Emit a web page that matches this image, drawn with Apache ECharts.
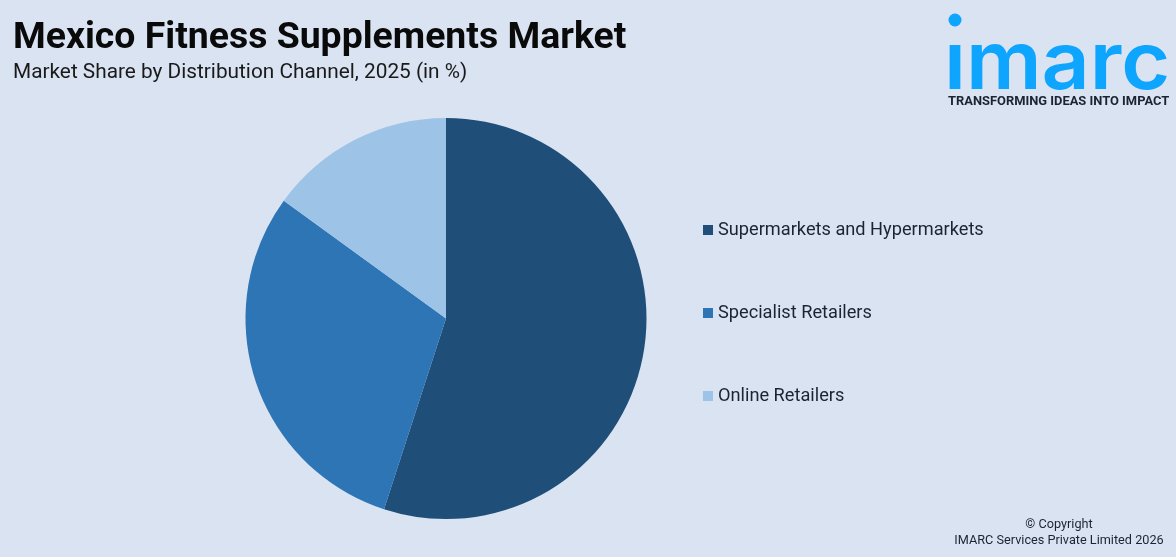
<!DOCTYPE html>
<html>
<head>
<meta charset="utf-8">
<style>
html, body { margin: 0; padding: 0; background: #dae3f2; }
#main { width: 1176px; height: 557px; }
</style>
<script src="https://cdn.jsdelivr.net/npm/echarts@6/dist/echarts.min.js"></script>
</head>
<body>
<div id="main"></div>
<script>
var categories = ['Supermarkets and Hypermarkets', 'Specialist Retailers', 'Online Retailers'];
var shares = [55, 30, 15];
var colors = ['#1f4e79', '#2e75b6', '#9dc3e6'];

var myChart = echarts.init(document.getElementById('main'));
var option = {
    backgroundColor: '#dae3f2',
    animation: false,
    color: colors,
    title: [
        {
            text: 'Mexico Fitness Supplements Market',
            left: 13, top: 20, padding: 0,
            textStyle: { fontFamily: 'Roboto', fontSize: 37.4, fontWeight: 'bold', color: '#0a0a0a' }
        },
        {
            text: 'Market Share by Distribution Channel, 2025 (in %)',
            left: 13, top: 62, padding: 0,
            textStyle: { fontFamily: 'Roboto', fontSize: 20.8, fontWeight: 'normal', color: '#1a1a1a' }
        }
    ],
    legend: {
        orient: 'vertical',
        left: 703,
        top: 220,
        padding: 0,
        itemWidth: 10,
        itemHeight: 10,
        itemGap: 63,
        icon: 'rect',
        selectedMode: false,
        data: categories,
        textStyle: { fontFamily: 'Roboto', fontSize: 18.2, color: '#1a2433', lineHeight: 20 }
    },
    series: [
        {
            type: 'pie',
            center: [446, 318.5],
            radius: [0, 200.5],
            startAngle: 90,
            clockwise: true,
            label: { show: false },
            labelLine: { show: false },
            silent: true,
            data: categories.map(function (name, i) {
                return { name: name, value: shares[i] };
            })
        }
    ],
    graphic: [
        { type: 'circle', shape: { cx: 955, cy: 20, r: 6.5 }, style: { fill: '#0ea5ff' } },
        {
            type: 'text', x: 944, y: 25, scaleX: 1.05,
            style: { text: 'ımarc', fontFamily: 'Inter', fontSize: 80, fontWeight: 600, fill: '#0ea5ff' }
        },
        {
            type: 'text', x: 948, y: 95,
            style: { text: 'TRANSFORMING IDEAS INTO IMPACT', fontFamily: 'Roboto', fontSize: 12.9, fontWeight: 'bold', fill: '#1a2433' }
        },
        {
            type: 'text', x: 1059, y: 518,
            style: { text: '© Copyright', textAlign: 'center', fontFamily: 'Roboto', fontSize: 12.7, fill: '#1a2433' }
        },
        {
            type: 'text', x: 1059, y: 534,
            style: { text: 'IMARC Services Private Limited 2026', textAlign: 'center', fontFamily: 'Roboto', fontSize: 12.7, fill: '#1a2433' }
        }
    ]
};
myChart.setOption(option);
</script>
</body>
</html>
